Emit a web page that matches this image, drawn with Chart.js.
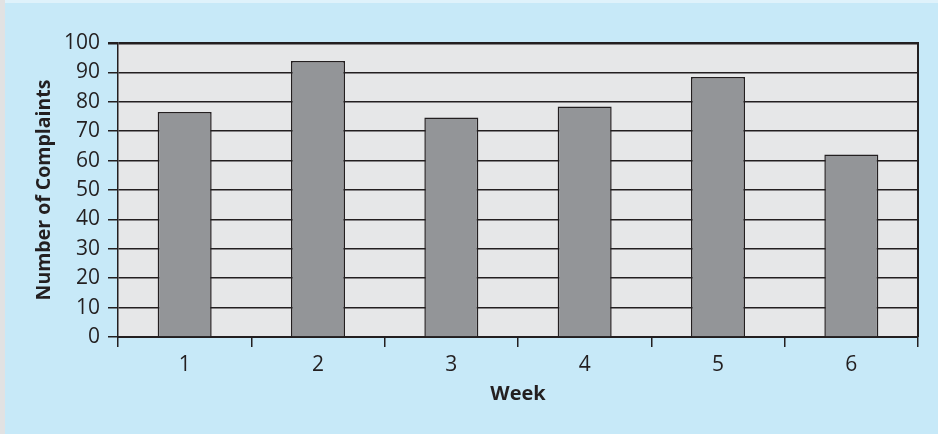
<!DOCTYPE html>
<html>
<head>
<meta charset="utf-8">
<script src="https://cdn.jsdelivr.net/npm/chart.js@4/dist/chart.umd.min.js"></script>
<style>
  body { margin: 0; background: #c7e9f8; }
  canvas { display: block; }
</style>
</head>
<body>
<canvas id="chart" width="938" height="434"></canvas>
<script>
const weeks = ["1", "2", "3", "4", "5", "6"];
const complaints = [76.5, 93.9, 74.7, 78.4, 88.4, 62.1];
const yTicks = [0, 10, 20, 30, 40, 50, 60, 70, 80, 90, 100];

const ink = "#231f20";

// page background, left strip and the grey plot area
const backdrop = {
  id: "backdrop",
  beforeDraw(chart) {
    const { ctx, chartArea: a, width, height } = chart;
    ctx.save();
    ctx.fillStyle = "#c7e9f8";
    ctx.fillRect(0, 0, width, height);
    ctx.fillStyle = "#dff2fb";
    ctx.fillRect(0, 0, width, 3);
    ctx.fillStyle = "#e1e2e3";
    ctx.fillRect(0, 0, 5, height);
    ctx.fillStyle = "#e6e7e8";
    ctx.fillRect(a.left, a.top, a.right - a.left, a.bottom - a.top);
    ctx.restore();
  },
  afterDraw(chart) {
    const { ctx, chartArea: a } = chart;
    ctx.save();
    ctx.strokeStyle = ink;
    ctx.lineWidth = 2;
    ctx.beginPath();
    ctx.moveTo(a.right, a.top - 1);
    ctx.lineTo(a.right, a.bottom);
    ctx.stroke();
    ctx.restore();
  }
};

new Chart(document.getElementById("chart"), {
  type: "bar",
  data: {
    labels: weeks,
    datasets: [{
      data: complaints,
      backgroundColor: "#939598",
      borderColor: ink,
      borderWidth: 1.5,
      barPercentage: 0.405,
      categoryPercentage: 1
    }]
  },
  options: {
    responsive: false,
    animation: false,
    layout: { padding: { top: 43, right: 20, left: 0, bottom: 0 } },
    plugins: { legend: { display: false }, tooltip: { enabled: false } },
    scales: {
      x: {
        afterFit: s => { s.height = 97; },
        grid: {
          drawOnChartArea: false,
          offset: true,
          tickLength: 10,
          color: ink,
          lineWidth: 1.5
        },
        border: { color: ink, width: 2 },
        ticks: {
          color: ink,
          padding: 5,
          font: { family: "Open Sans", size: 21 }
        },
        title: {
          display: true,
          text: "Week",
          color: ink,
          padding: { top: 0, bottom: 28 },
          font: { family: "Open Sans", size: 20, weight: "bold" }
        }
      },
      y: {
        min: 0,
        max: 100,
        afterFit: s => { s.width = 118; },
        afterBuildTicks: s => { s.ticks = yTicks.map(v => ({ value: v })); },
        grid: {
          color: ink,
          lineWidth: c => (c.tick && c.tick.value === 100 ? 2.5 : 1.5),
          tickLength: 10
        },
        border: { color: ink, width: 1.5 },
        ticks: {
          color: ink,
          padding: 8,
          font: { family: "Open Sans", size: 21 }
        },
        title: {
          display: true,
          text: "Number of Complaints",
          color: ink,
          padding: { top: 33, bottom: 0 },
          font: { family: "Open Sans", size: 19.5, weight: "bold" }
        }
      }
    }
  },
  plugins: [backdrop]
});
</script>
</body>
</html>
